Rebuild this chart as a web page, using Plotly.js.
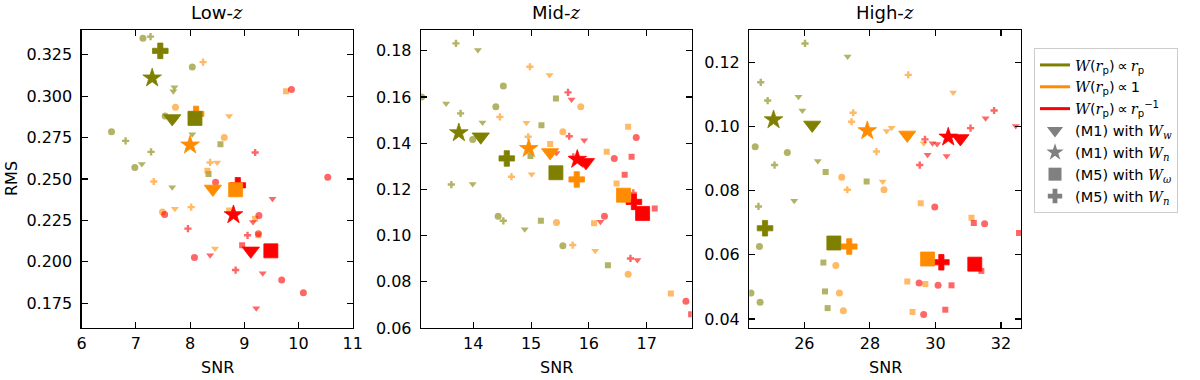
<!DOCTYPE html>
<html>
<head>
<meta charset="utf-8">
<script src="https://cdn.plot.ly/plotly-3.0.1.min.js"></script>
<style>body{margin:0;background:#fff}</style>
</head>
<body>
<div id="chart" style="width:1200px;height:380px"></div>
<script>
// method codes: v = (M1) W_w, * = (M1) W_n, s = (M5) W_omega, + = (M5) W_n
const methods = ["v", "*", "s", "+"];

// ---- Low-z, individual runs (faint markers) ----
const lowRpX = [7.71, 7.69, 7.72, 8.04, 7.11, 7.67, 7.13, 8.04, 7.54, 6.55, 6.98, 7.27, 6.81, 7.28, 8.56, 8.34];
const lowRpY = [0.3054, 0.3030, 0.286, 0.277, 0.259, 0.245, 0.335, 0.3176, 0.288, 0.2785, 0.257, 0.336, 0.273, 0.2664, 0.271, 0.253];
const lowRpM = ["v", "v", "v", "v", "v", "v", "*", "*", "*", "*", "*", "+", "+", "+", "s", "s"];
const lowOneX = [8.24, 8.37, 7.33, 8.02, 7.73, 8.63, 7.49, 8.72, 8.50, 7.72, 8.46, 8.32, 8.72, 9.20, 9.26, 9.77];
const lowOneY = [0.3206, 0.260, 0.2485, 0.233, 0.2934, 0.275, 0.230, 0.288, 0.260, 0.232, 0.208, 0.255, 0.231, 0.226, 0.216, 0.303];
const lowOneM = ["+", "+", "+", "+", "*", "*", "*", "v", "v", "v", "v", "s", "s", "s", "s", "s"];
const lowInvX = [9.87, 10.54, 8.47, 7.53, 9.27, 9.26, 8.08, 9.69, 10.09, 9.20, 7.96, 9.06, 8.84, 9.52, 9.16, 8.37, 9.34, 9.22, 8.96];
const lowInvY = [0.304, 0.251, 0.248, 0.2286, 0.228, 0.217, 0.2026, 0.189, 0.1813, 0.266, 0.220, 0.216, 0.195, 0.238, 0.224, 0.204, 0.193, 0.172, 0.210];
const lowInvM = ["*", "*", "*", "*", "*", "*", "*", "*", "*", "+", "+", "+", "+", "v", "v", "v", "v", "v", "s"];

// ---- Mid-z ----
const midRpX = [13.70, 13.78, 13.62, 14.52, 14.08, 13.53, 14.16, 13.99, 14.89, 14.52, 14.39, 13.99, 14.43, 15.55, 13.105, 15.43, 15.18, 14.99, 15.17, 16.33];
const midRpY = [0.1832, 0.1529, 0.1221, 0.1064, 0.1803, 0.1572, 0.149, 0.1223, 0.1028, 0.1648, 0.1558, 0.1416, 0.1084, 0.0956, 0.160, 0.1594, 0.1478, 0.1345, 0.1064, 0.0872];
const midRpM = ["+", "+", "+", "+", "v", "v", "v", "v", "v", "*", "*", "*", "*", "*", "*", "s", "s", "s", "s", "s"];
const midOneX = [14.98, 14.46, 14.95, 14.66, 15.72, 15.32, 14.92, 15.01, 16.11, 15.86, 15.55, 15.44, 16.68, 15.33, 16.68, 16.31, 16.48, 16.09, 17.42];
const midOneY = [0.1731, 0.1514, 0.1428, 0.1255, 0.0959, 0.1695, 0.1488, 0.1266, 0.0934, 0.1558, 0.1449, 0.1057, 0.0833, 0.1396, 0.1471, 0.1363, 0.1226, 0.1053, 0.0749];
const midOneM = ["+", "+", "+", "+", "+", "v", "v", "v", "v", "*", "*", "*", "*", "s", "s", "s", "s", "s", "s"];
const midInvX = [15.64, 15.66, 15.73, 16.77, 16.72, 15.70, 15.92, 15.44, 16.20, 16.84, 16.82, 16.44, 16.27, 17.68, 16.74, 16.62, 17.14, 17.77];
const midInvY = [0.162, 0.143, 0.1341, 0.1185, 0.0901, 0.1589, 0.1413, 0.1358, 0.1060, 0.0894, 0.1425, 0.1334, 0.1084, 0.0716, 0.1341, 0.1263, 0.1117, 0.066];
const midInvM = ["+", "+", "+", "+", "+", "v", "v", "v", "v", "v", "*", "*", "*", "*", "s", "s", "s", "s"];

// ---- High-z ----
const highRpX = [26.02, 24.67, 24.88, 25.09, 24.60, 27.32, 25.82, 25.94, 26.41, 25.69, 24.50, 25.48, 24.63, 24.37, 24.65, 26.65, 27.90, 26.58, 26.63, 26.71];
const highRpY = [0.1259, 0.1138, 0.1081, 0.0880, 0.0751, 0.1218, 0.1093, 0.1050, 0.0893, 0.0769, 0.0937, 0.0919, 0.0626, 0.0481, 0.0452, 0.0858, 0.0829, 0.0576, 0.0486, 0.0434];
const highRpM = ["+", "+", "+", "+", "+", "v", "v", "v", "v", "v", "*", "*", "*", "*", "*", "s", "s", "s", "s", "s"];
const highOneX = [29.17, 27.49, 27.44, 28.20, 27.31, 30.54, 28.66, 28.51, 29.64, 28.39, 27.14, 28.43, 26.96, 27.07, 27.19, 29.55, 31.10, 29.14, 29.69, 29.30];
const highOneY = [0.1161, 0.1043, 0.1015, 0.0922, 0.0803, 0.1106, 0.0996, 0.0986, 0.0948, 0.0829, 0.0842, 0.0803, 0.0567, 0.0481, 0.0426, 0.0761, 0.0716, 0.0517, 0.0509, 0.0422];
const highOneM = ["+", "+", "+", "+", "+", "v", "v", "v", "v", "v", "*", "*", "*", "*", "*", "s", "s", "s", "s", "s"];
const highInvX = [31.79, 31.07, 29.68, 29.52, 31.53, 32.45, 29.91, 30.05, 29.76, 30.34, 29.98, 31.50, 29.50, 30.08, 29.64, 31.17, 32.55, 31.40, 30.49, 30.30];
const highInvY = [0.1050, 0.0995, 0.0960, 0.0880, 0.1026, 0.1002, 0.0948, 0.0946, 0.0912, 0.0908, 0.0749, 0.0697, 0.0512, 0.0505, 0.0414, 0.0699, 0.0668, 0.0550, 0.0505, 0.0429];
const highInvM = ["+", "+", "+", "+", "v", "v", "v", "v", "v", "v", "*", "*", "*", "*", "*", "s", "s", "s", "s", "s"];

// ---- averages: rows = weight (rp, 1, rp^-1), columns = methods order ----
const lowMeanX = [[7.67, 7.30, 8.09, 7.45], [8.42, 8.00, 8.84, 8.11], [9.12, 8.80, 9.49, 8.88]];
const lowMeanY = [[0.2866, 0.311, 0.2866, 0.3274], [0.244, 0.2705, 0.2435, 0.2893], [0.2066, 0.2284, 0.2066, 0.2462]];
const midMeanX = [[14.13, 13.75, 15.43, 14.58], [15.33, 14.96, 16.60, 15.79], [15.95, 15.80, 16.93, 16.78]];
const midMeanY = [[0.1428, 0.1445, 0.1272, 0.1334], [0.1360, 0.1377, 0.1175, 0.1243], [0.1317, 0.1330, 0.1096, 0.1146]];
const highMeanX = [[26.24, 25.06, 26.90, 24.80], [29.14, 27.92, 29.76, 27.37], [30.76, 30.39, 31.20, 30.18]];
const highMeanY = [[0.1005, 0.1021, 0.0637, 0.0683], [0.0974, 0.0987, 0.0587, 0.0626], [0.0963, 0.0967, 0.0571, 0.0577]];

const panelTitles = ["Low-", "Mid-", "High-"];

// styling
const colors = ["#808000", "#ff8c00", "#ff0000"];
const symbolOf = { "v": "triangle-down", "*": "star", "s": "square", "+": "cross" };
const smallSymbolOf = { "v": "triangle-down", "*": "circle", "s": "square", "+": "cross" };
const bigSize = { "v": 15, "*": 14, "s": 14, "+": 13 };
const smallSize = { "v": 7, "*": 7, "s": 6, "+": 6 };
const FONT = "DejaVu Sans, sans-serif";
const serif = s => '<span style="font-family:DejaVu Serif"><i>' + s + '</i></span>';

const panels = [
    { small: [[lowRpX, lowRpY, lowRpM], [lowOneX, lowOneY, lowOneM], [lowInvX, lowInvY, lowInvM]], mx: lowMeanX, my: lowMeanY },
    { small: [[midRpX, midRpY, midRpM], [midOneX, midOneY, midOneM], [midInvX, midInvY, midInvM]], mx: midMeanX, my: midMeanY },
    { small: [[highRpX, highRpY, highRpM], [highOneX, highOneY, highOneM], [highInvX, highInvY, highInvM]], mx: highMeanX, my: highMeanY }
];

const traces = [];
panels.forEach((p, i) => {
    const xa = i === 0 ? "x" : "x" + (i + 1);
    const ya = i === 0 ? "y" : "y" + (i + 1);
    p.small.forEach(([xs, ys, ms], w) => {
        traces.push({
            x: xs, y: ys, xaxis: xa, yaxis: ya, type: "scatter", mode: "markers",
            showlegend: false, hoverinfo: "skip",
            marker: {
                color: colors[w], opacity: 0.6,
                symbol: ms.map(m => smallSymbolOf[m]),
                size: ms.map(m => smallSize[m]),
                line: { width: 0 }
            }
        });
    });
    // red first so orange and olive sit on top
    [2, 1, 0].forEach(w => {
        traces.push({
            x: p.mx[w], y: p.my[w], xaxis: xa, yaxis: ya, type: "scatter", mode: "markers",
            showlegend: false, hoverinfo: "skip",
            marker: {
                color: colors[w], opacity: 1,
                symbol: methods.map(m => symbolOf[m]),
                size: methods.map(m => bigSize[m]),
                line: { width: 0.8, color: colors[w] }
            }
        });
    });
});

// legend entries
const rp = serif("r") + "<sub>p</sub>";
const prop = "\u2009∝\u2009";
const weightLabels = [
    serif("W") + "(" + rp + ")" + prop + rp,
    serif("W") + "(" + rp + ")" + prop + "1",
    serif("W") + "(" + rp + ")" + prop + rp + "<sup>−1</sup>"
];
const methodLabels = [
    "(M1) with " + serif("W<sub>w</sub>"),
    "(M1) with " + serif("W<sub>n</sub>"),
    "(M5) with " + serif("W<sub>ω</sub>"),
    "(M5) with " + serif("W<sub>n</sub>")
];
weightLabels.forEach((name, w) => {
    traces.push({
        x: [null], y: [null], type: "scatter", mode: "lines", name: name,
        line: { color: colors[w], width: 3 }
    });
});
methods.forEach((m, k) => {
    traces.push({
        x: [null], y: [null], type: "scatter", mode: "markers", name: methodLabels[k],
        marker: { color: "#808080", symbol: symbolOf[m], size: bigSize[m] - 1 }
    });
});

const W = 1200, H = 380;
const plotTop = 30, plotBottom = 328;
const xDomains = [[81.7, 352.7], [421, 691.7], [749.3, 1021]];
const yDomain = [(H - plotBottom) / H, (H - plotTop) / H];

function axisBase() {
    return {
        showline: true, linecolor: "black", linewidth: 1.3, mirror: "ticks",
        ticks: "inside", ticklen: 6, tickwidth: 1.1, tickcolor: "black",
        showgrid: false, zeroline: false,
        tickfont: { family: FONT, size: 16, color: "black" }
    };
}

const layout = {
    width: W, height: H,
    margin: { l: 0, r: 0, t: 0, b: 0 },
    paper_bgcolor: "white", plot_bgcolor: "white",
    font: { family: FONT, color: "black" },
    showlegend: true,
    legend: {
        x: 1034 / W, y: 1 - 48 / H, xanchor: "left", yanchor: "top",
        bordercolor: "#cccccc", borderwidth: 1, bgcolor: "white",
        font: { family: FONT, size: 14.5, color: "black" },
        traceorder: "normal"
    },
    xaxis: Object.assign(axisBase(), { domain: xDomains[0].map(v => v / W), range: [6, 11], dtick: 1, anchor: "y" }),
    yaxis: Object.assign(axisBase(), { domain: yDomain, range: [0.160, 0.340], tick0: 0.175, dtick: 0.025, tickformat: ".3f", anchor: "x", ticklabelstandoff: 5 }),
    xaxis2: Object.assign(axisBase(), { domain: xDomains[1].map(v => v / W), range: [13.095, 17.78], dtick: 1, anchor: "y2" }),
    yaxis2: Object.assign(axisBase(), { domain: yDomain, range: [0.060, 0.189], tick0: 0, dtick: 0.02, tickformat: ".2f", anchor: "x2", ticklabelstandoff: 5 }),
    xaxis3: Object.assign(axisBase(), { domain: xDomains[2].map(v => v / W), range: [24.32, 32.61], tick0: 0, dtick: 2, anchor: "y3" }),
    yaxis3: Object.assign(axisBase(), { domain: yDomain, range: [0.0372, 0.1301], tick0: 0, dtick: 0.02, tickformat: ".2f", anchor: "x3", ticklabelstandoff: 5 }),
    annotations: []
};

xDomains.forEach((d, i) => {
    const cx = (d[0] + d[1]) / 2 / W;
    layout.annotations.push({
        xref: "paper", yref: "paper", x: cx, y: 1 - 13 / H, xanchor: "center", yanchor: "middle",
        text: panelTitles[i] + serif("z"), showarrow: false,
        font: { family: FONT, size: 18, color: "black" }
    });
    layout.annotations.push({
        xref: "paper", yref: "paper", x: cx, y: 1 - 367 / H, xanchor: "center", yanchor: "middle",
        text: "SNR", showarrow: false,
        font: { family: FONT, size: 16, color: "black" }
    });
});
layout.annotations.push({
    xref: "paper", yref: "paper", x: 11 / W, y: 1 - 179 / H, xanchor: "center", yanchor: "middle",
    text: "RMS", textangle: -90, showarrow: false,
    font: { family: FONT, size: 16, color: "black" }
});

Plotly.newPlot("chart", traces, layout, { staticPlot: true, displayModeBar: false });
</script>
</body>
</html>
